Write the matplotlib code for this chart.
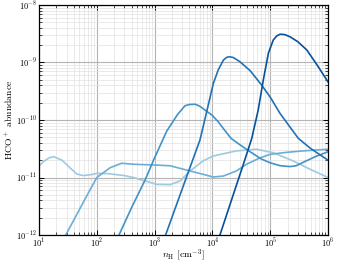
import numpy as np
import matplotlib
matplotlib.use('Agg')
import matplotlib.pyplot as plt

plt.rcParams['font.family'] = 'serif'
plt.rcParams['font.serif'] = ['cmr10', 'DejaVu Serif']
plt.rcParams['mathtext.fontset'] = 'cm'
plt.rcParams['axes.formatter.use_mathtext'] = True
plt.rcParams['axes.unicode_minus'] = False

# curve data (n_H in cm^-3, abundance)
nH_a = [10, 12, 15, 18, 25, 35, 45, 58, 80, 100, 150, 300, 430, 1090, 1850, 2750,
        4100, 6900, 1.04e4, 2.6e4, 5.8e4, 1.13e5, 2.5e5, 4.9e5, 1e6]
ab_a = [1.58e-11, 1.9e-11, 2.2e-11, 2.3e-11, 2.0e-11, 1.45e-11, 1.15e-11, 1.08e-11,
        1.12e-11, 1.18e-11, 1.17e-11, 1.08e-11, 1.0e-11, 7.6e-12, 7.5e-12, 8.7e-12,
        1.3e-11, 1.94e-11, 2.37e-11, 2.9e-11, 3.1e-11, 2.7e-11, 1.94e-11, 1.39e-11, 1.0e-11]

nH_b = [20, 29, 40, 60, 100, 170, 270, 430, 1000, 1850, 4100, 1.04e4, 1.55e4, 2.6e4,
        3.9e4, 6.7e4, 1e5, 2e5, 3.7e5, 1e6]
ab_b = [5e-13, 1e-12, 1.82e-12, 3.9e-12, 1e-11, 1.48e-11, 1.77e-11, 1.7e-11, 1.65e-11,
        1.6e-11, 1.3e-11, 1.02e-11, 1.06e-11, 1.3e-11, 1.7e-11, 2.2e-11, 2.53e-11,
        2.75e-11, 2.9e-11, 3.1e-11]

nH_c = [150, 242, 400, 683, 1000, 1620, 2500, 3360, 4000, 5000, 6000, 7450, 1e4, 1.26e4,
        1.6e4, 2.1e4, 3e4, 4.5e4, 7e4, 1e5, 1.5e5, 2.2e5, 2.8e5, 4e5, 6e5, 1e6]
ab_c = [3.5e-13, 1e-12, 3.0e-12, 9.0e-12, 2.2e-11, 6.4e-11, 1.25e-10, 1.77e-10, 1.86e-10,
        1.88e-10, 1.75e-10, 1.49e-10, 1.2e-10, 9.3e-11, 6.8e-11, 4.8e-11, 3.7e-11, 2.8e-11,
        2.1e-11, 1.8e-11, 1.6e-11, 1.55e-11, 1.6e-11, 1.9e-11, 2.3e-11, 2.8e-11]

nH_d = [1000, 1550, 2500, 4000, 6100, 7960, 1.04e4, 1.26e4, 1.55e4, 1.75e4, 1.95e4,
        2.3e4, 3.0e4, 4.5e4, 7.1e4, 1e5, 1.48e5, 2.3e5, 3.06e5, 5e5, 1e6]
ab_d = [3e-13, 1e-12, 3.8e-12, 1.4e-11, 4.5e-11, 1.39e-10, 4.35e-10, 7.4e-10, 1.1e-9,
        1.22e-9, 1.26e-9, 1.22e-9, 1.03e-9, 7.2e-10, 4.06e-10, 2.5e-10, 1.3e-10, 7.1e-11,
        4.8e-11, 3.2e-11, 2.0e-11]

nH_e = [1e4, 1.35e4, 2.5e4, 3.5e4, 4.8e4, 6.2e4, 7.6e4, 9.3e4, 1.13e5, 1.3e5, 1.48e5,
        1.8e5, 2.2e5, 3e5, 4.3e5, 6.5e5, 1e6]
ab_e = [4e-13, 1e-12, 6.5e-12, 1.8e-11, 4.8e-11, 1.49e-10, 4.96e-10, 1.45e-9, 2.46e-9,
        2.9e-9, 3.1e-9, 3.05e-9, 2.8e-9, 2.3e-9, 1.65e-9, 9e-10, 4.6e-10]

colors = ['#9ecae1', '#6aaed6', '#4292c6', '#2171b5', '#08519c']

fig = plt.figure(figsize=(3.38, 2.62), dpi=100)
ax = fig.add_axes([0.1154, 0.103, 0.855, 0.878])

for x, y, c in zip([nH_a, nH_b, nH_c, nH_d, nH_e],
                   [ab_a, ab_b, ab_c, ab_d, ab_e], colors):
    ax.plot(x, y, color=c, lw=1.2)

ax.set_xscale('log')
ax.set_yscale('log')
ax.set_xlim(10, 1e6)
ax.set_ylim(1e-12, 1e-8)

ax.grid(True, which='major', color='#b4b4b4', lw=0.8)
ax.grid(True, which='minor', color='#e2e2e2', lw=0.5)
ax.set_axisbelow(True)

ax.tick_params(which='both', direction='in', top=True, right=True, labelsize=6, pad=1.5)
ax.tick_params(which='major', length=3.5, width=0.7)
ax.tick_params(which='minor', length=2, width=0.5)
for s in ax.spines.values():
    s.set_linewidth(0.9)

ax.set_xlabel(r'$n_{\rm H}\ [\rm cm^{-3}]$', fontsize=7, labelpad=-2)
ax.set_ylabel(r'$\rm HCO^+\ abundance$', fontsize=7, labelpad=1)

fig.savefig('out.png', dpi=100)
